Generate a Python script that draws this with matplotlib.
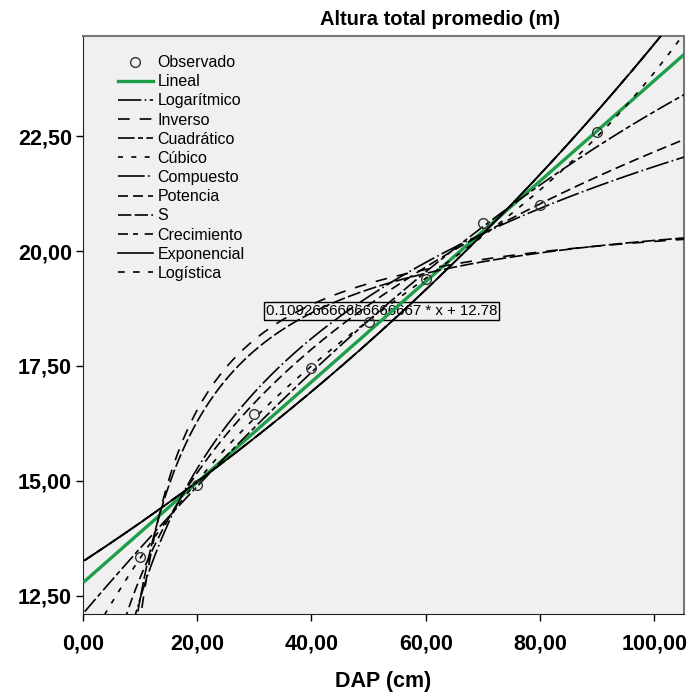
import matplotlib
matplotlib.use("Agg")
import matplotlib.pyplot as plt
import numpy as np

plt.rcParams["font.family"] = ["Liberation Sans", "DejaVu Sans"]

# observed means
dap = np.array([10, 20, 30, 40, 50, 60, 70, 80, 90], dtype=float)
altura = np.array([13.35, 14.90, 16.45, 17.45, 18.45, 19.40, 20.60, 21.00, 22.60])

yticks = [12.5, 15.0, 17.5, 20.0, 22.5]
xticks = [0, 20, 40, 60, 80, 100]
equation = "0.10926666666666667 * x + 12.78"


def fmt(v):
    return f"{v:.2f}".replace(".", ",")


# curve estimation models (SPSS style)
xs = np.linspace(0.3, 106, 800)
lx, ly = np.log(dap), np.log(altura)

lin = np.polyfit(dap, altura, 1)
logm = np.polyfit(lx, altura, 1)
inv = np.polyfit(1 / dap, altura, 1)
quad = np.polyfit(dap, altura, 2)
cub = np.polyfit(dap, altura, 3)
expm = np.polyfit(dap, ly, 1)
powm = np.polyfit(lx, ly, 1)
sm = np.polyfit(1 / dap, ly, 1)

curves = [
    ("Lineal", np.polyval(lin, xs), dict(color="#1f9e4a", lw=2.4, ls="-")),
    ("Logarítmico", np.polyval(logm, np.log(xs)), dict(color="black", lw=1.2, ls=(0, (14, 2, 1, 2)))),
    ("Inverso", np.polyval(inv, 1 / xs), dict(color="black", lw=1.2, ls=(0, (7, 6)))),
    ("Cuadrático", np.polyval(quad, xs), dict(color="black", lw=1.2, ls=(0, (10, 2, 3, 2)))),
    ("Cúbico", np.polyval(cub, xs), dict(color="black", lw=1.2, ls=(0, (3, 5)))),
    ("Compuesto", np.exp(np.polyval(expm, xs)), dict(color="black", lw=1.2, ls=(0, (16, 2, 1, 2)))),
    ("Potencia", np.exp(np.polyval(powm, np.log(xs))), dict(color="black", lw=1.2, ls=(0, (6, 3)))),
    ("S", np.exp(np.polyval(sm, 1 / xs)), dict(color="black", lw=1.2, ls=(0, (8, 2)))),
    ("Crecimiento", np.exp(np.polyval(expm, xs)), dict(color="black", lw=1.2, ls=(0, (6, 3, 3, 4)))),
    ("Exponencial", np.exp(np.polyval(expm, xs)), dict(color="black", lw=1.2, ls="-")),
    ("Logística", np.exp(np.polyval(expm, xs)), dict(color="black", lw=1.2, ls=(0, (4, 5)))),
]

fig = plt.figure(figsize=(6.89, 6.93), dpi=100)
ax = fig.add_axes([0.1205, 0.114, 0.872, 0.834])
ax.set_facecolor("#f0f0f0")

ax.plot(dap, altura, ls="none", marker="o", ms=7, mfc="none", mec="#333333",
        mew=1.0, label="Observado", zorder=5)
for name, ys, style in curves:
    ax.plot(xs, ys, label=name, zorder=3, **style)

ax.text(32, 18.7, equation, fontsize=10.8, va="center", ha="left", zorder=2,
        bbox=dict(boxstyle="square,pad=0.15", fc="#f0f0f0", ec="black", lw=1))

ax.set_xlim(0, 105.2)
ax.set_ylim(12.1, 24.68)
ax.set_xticks(xticks)
ax.set_xticklabels([fmt(v) for v in xticks])
ax.set_yticks(yticks)
ax.set_yticklabels([fmt(v) for v in yticks])
ax.tick_params(direction="out", length=5, width=1, labelsize=15.5, pad=3)
for lab in ax.get_xticklabels() + ax.get_yticklabels():
    lab.set_fontweight("bold")
ax.tick_params(axis="x", pad=9)

for side in ["left", "bottom"]:
    ax.spines[side].set_color("#222222")
for side in ["top", "right"]:
    ax.spines[side].set_color("#777777")
    ax.spines[side].set_linewidth(1.5)

ax.set_xlabel("DAP (cm)", fontsize=15.5, fontweight="bold", labelpad=12)
fig.text(0.639, 0.972, "Altura total promedio (m)", fontsize=14.5,
         fontweight="bold", ha="center", va="center")

leg = ax.legend(loc="upper left", bbox_to_anchor=(0.047, 0.978), frameon=False,
                fontsize=11.5, handlelength=2.2, handletextpad=0.3,
                labelspacing=0.26, borderaxespad=0)

fig.savefig("out.png", dpi=100)
